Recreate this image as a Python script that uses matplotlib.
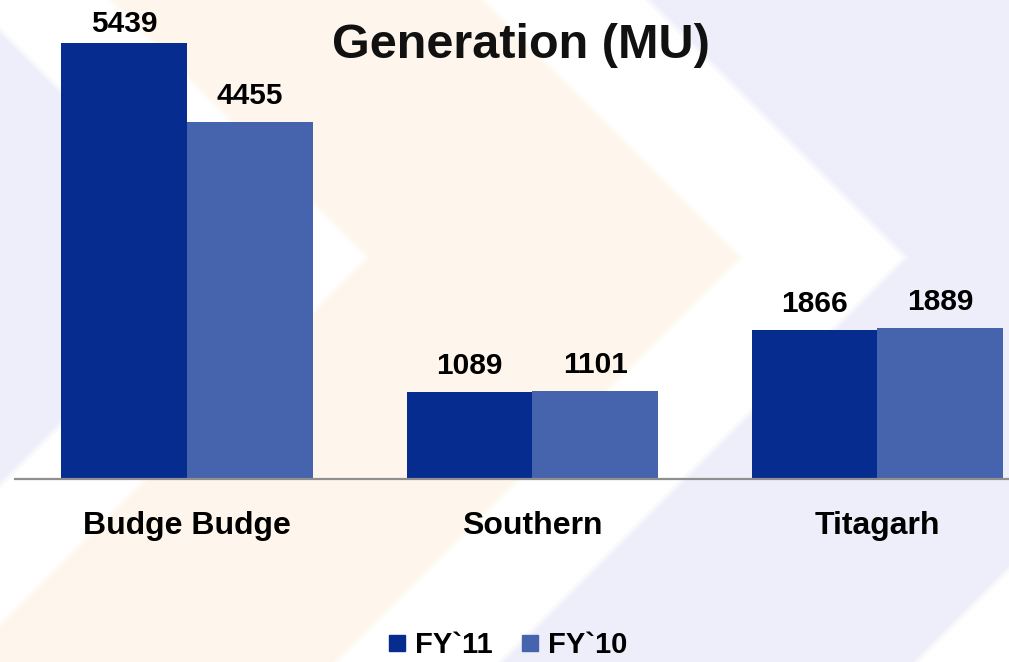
import numpy as np
import matplotlib
matplotlib.use("Agg")
import matplotlib.pyplot as plt
from matplotlib.lines import Line2D

# ---- data ----
categories = ["Budge Budge", "Southern", "Titagarh"]
series_names = ["FY`11", "FY`10"]
fy11 = [5439, 1089, 1866]
fy10 = [4455, 1101, 1889]
title = "Generation (MU)"

# ---- style ----
W, H, DPI = 1009, 662, 100
col_fy11 = "#062C8F"
col_fy10 = "#4663AD"
lavender = np.array([238, 238, 251]) / 255.0
peach = np.array([254, 246, 236]) / 255.0
white = np.array([255, 255, 255]) / 255.0
FONT = ["Liberation Sans", "DejaVu Sans"]
plt.rcParams["font.family"] = FONT
plt.rcParams["font.weight"] = "bold"

fig = plt.figure(figsize=(W / DPI, H / DPI), dpi=DPI)

# ---- decorative chevron background ----
yy, xx = np.mgrid[0:H, 0:W].astype(float)
c = xx + np.abs(yy - 257.0)
def step(edge, width=10.0):
    return np.clip((c - edge) / width + 0.5, 0, 1)[..., None]
bg = lavender * np.ones((H, W, 3))
bg = bg * (1 - step(227)) + white * step(227)
bg = bg * (1 - step(367)) + peach * step(367)
bg = bg * (1 - step(740)) + white * step(740)
bg = bg * (1 - step(905)) + lavender * step(905)
bg = bg * (1 - step(1320)) + white * step(1320)
bax = fig.add_axes([0, 0, 1, 1], zorder=-5)
bax.imshow(bg, aspect="auto", extent=[0, 1, 0, 1], interpolation="bilinear")
bax.set_axis_off()

# ---- main axes ----
left_px, base_px = 14.5, 479.0
ax = fig.add_axes([left_px / W, (H - base_px) / H, (W - left_px) / W, base_px / H])
ax.patch.set_alpha(0)
x = np.arange(len(categories))
bw = 0.364
ax.bar(x - bw / 2, fy11, width=bw, color=col_fy11, label=series_names[0], zorder=2)
ax.bar(x + bw / 2, fy10, width=bw, color=col_fy10, label=series_names[1], zorder=2)
ax.set_xlim(-0.5, 2.381)
ax.set_ylim(0, 5980)

for s in ["top", "right", "left"]:
    ax.spines[s].set_visible(False)
ax.spines["bottom"].set_color("#8F8F8F")
ax.spines["bottom"].set_linewidth(1.6)
ax.spines["bottom"].set_zorder(3)
ax.set_yticks([])
ax.set_xticks(x)
ax.set_xticklabels(categories, fontsize=23, fontweight="bold")
ax.tick_params(axis="x", length=0, pad=23)

# value labels
pad_units = 225
ceiling = 5580
for xs, vals in [(x - bw / 2, fy11), (x + bw / 2, fy10)]:
    for xi, v in zip(xs, vals):
        ax.text(xi, min(v + pad_units, ceiling), f"{v}", ha="center", va="baseline",
                fontsize=21.5, fontweight="bold", color="black", zorder=4)

# title
fig.text(521 / W, 1 - 46 / H, title, ha="center", va="center", fontsize=35,
         fontweight="bold", color="#111111")

# legend
handles = [Line2D([], [], marker="s", linestyle="", markersize=11.5, color=col_fy11),
           Line2D([], [], marker="s", linestyle="", markersize=11.5, color=col_fy10)]
fig.legend(handles, series_names, loc="lower center", bbox_to_anchor=(508 / W, 0.004),
           ncol=2, frameon=False, prop={"size": 21, "weight": "bold"},
           handlelength=0.6, handletextpad=0.3, columnspacing=1.0,
           borderpad=0, borderaxespad=0)

fig.savefig("out.png", dpi=DPI)
